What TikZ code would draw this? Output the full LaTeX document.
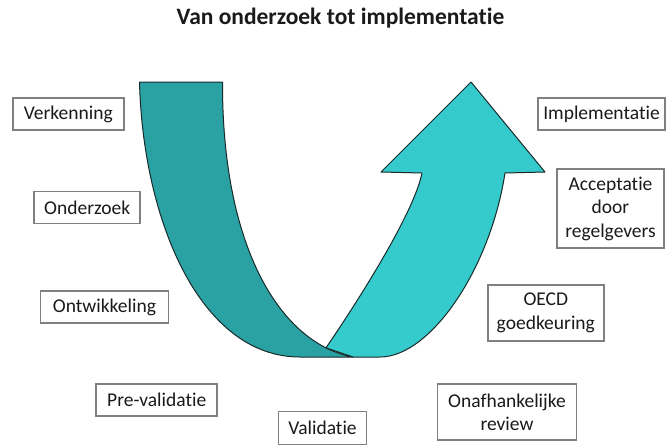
\documentclass[tikz,border=0pt]{standalone}
\usepackage{fontspec}
\setmainfont{Carlito}[Ligatures={NoCommon}]
\definecolor{boxgray}{HTML}{808080}
\definecolor{txt}{HTML}{1A1A1A}
\definecolor{darkteal}{HTML}{2AA1A3}
\definecolor{lightteal}{HTML}{35CACC}
\definecolor{edge}{HTML}{1A2A2A}
\begin{document}
\begin{tikzpicture}[x=1pt,y=-1pt,
  lbl/.style={draw=boxgray, line width=1.5pt, fill=white, align=center,
    font=\fontsize{19.5}{23.5}\selectfont, text=txt, inner sep=0pt},
  band/.style={draw=edge, line width=1pt, line join=round}]
\useasboundingbox (0,0) rectangle (667,445);
% title
\node[font=\fontsize{23.5}{27}\selectfont\bfseries, text=txt] (title) at (340.5,18) {Van onderzoek tot implementatie};
% dark band
\path (353,357) .. controls (282,344) and (222,250) .. (222.5,82) coordinate[pos=0.13] (P);
\fill[darkteal] (139.5,82) -- (222.5,82) .. controls (222,250) and (282,344) .. (353,357)
   -- (300,357) .. controls (200,357) and (143,220) .. cycle;
\draw[band] (139.5,82) -- (222.5,82) .. controls (222,250) and (282,344) .. (353,357)
   -- (300,357) .. controls (200,357) and (143,220) .. cycle;
% light band with arrow head
\filldraw[band, fill=lightteal] (P) -- (353,357) -- (380,357)
   .. controls (430,357) and (490,270) .. (505,173)
   -- (545,172) -- (471,82) -- (381,172) -- (422,173)
   .. controls (414,213) and (358,301) .. (P) -- cycle;
% labels
\node[lbl, minimum width=111pt, minimum height=32pt] (verk) at (68.3,114.2) {Verkenning};
\node[lbl, minimum width=106pt, minimum height=32pt] (onder) at (87.2,207.5) {Onderzoek};
\node[lbl, minimum width=128pt, minimum height=32pt] (ontw) at (104.5,307.2) {Ontwikkeling};
\node[lbl, minimum width=121pt, minimum height=32pt] (preval) at (156.7,399.8) {Pre-validatie};
\node[lbl, minimum width=88pt, minimum height=33pt] (val) at (322.5,428) {Validatie};
\node[lbl, minimum width=139pt, minimum height=56pt] (onaf) at (507,412.2) {Onafhankelijke\\review};
\node[lbl, minimum width=116pt, minimum height=56pt] (oecd) at (545.8,313) {OECD\\goedkeuring};
\node[lbl, minimum width=107pt, minimum height=79pt] (accept) at (610.5,208.5) {Acceptatie\\door\\regelgevers};
\node[lbl, minimum width=127pt, minimum height=32pt] (impl) at (601.5,114) {Implementatie};
\end{tikzpicture}
\end{document}
